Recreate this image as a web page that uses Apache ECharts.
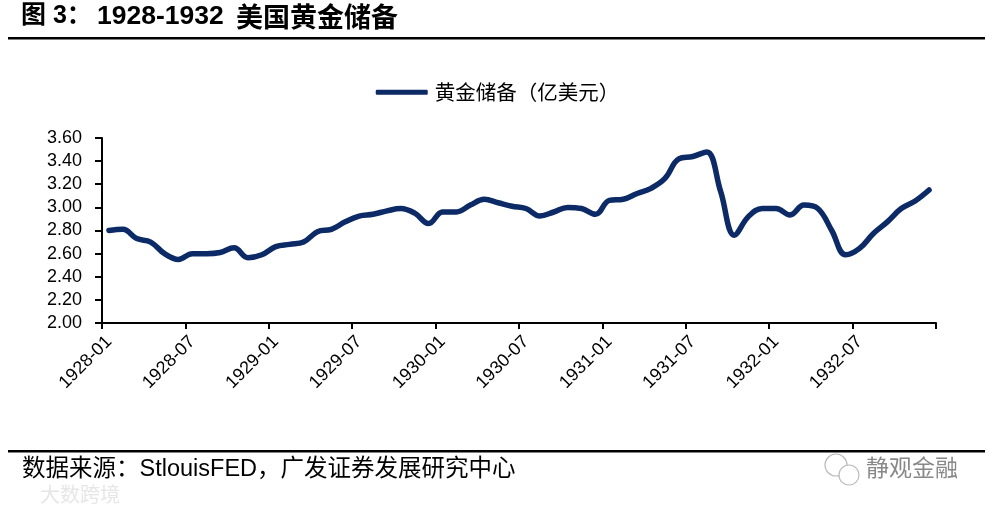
<!DOCTYPE html>
<html>
<head>
<meta charset="utf-8">
<script src="https://cdn.jsdelivr.net/npm/echarts@6/dist/echarts.min.js"></script>
<style>
html,body{margin:0;padding:0;background:#fff;}
#chart{width:995px;height:513px;}
</style>
</head>
<body>
<div id="chart"></div>
<script>
// Categories: monthly 1928-01 .. 1932-12
const years = [1928, 1929, 1930, 1931, 1932];
const months = ['01','02','03','04','05','06','07','08','09','10','11','12'];
const categories = [];
years.forEach(y => months.forEach(m => categories.push(y + '-' + m)));

// Gold reserves (亿美元)
const goldReserves = [
  2.80, 2.81, 2.73, 2.70, 2.60, 2.55, 2.60, 2.60, 2.61, 2.65, 2.565, 2.59,
  2.66, 2.68, 2.70, 2.79, 2.81, 2.875, 2.925, 2.94, 2.97, 2.99, 2.95, 2.86,
  2.96, 2.96, 3.02, 3.07, 3.04, 3.01, 2.99, 2.925, 2.96, 3.00, 2.99, 2.94,
  3.06, 3.07, 3.12, 3.165, 3.25, 3.42, 3.44, 3.48, 3.14, 2.76, 2.92, 2.99,
  2.99, 2.935, 3.02, 2.99, 2.80, 2.59, 2.645, 2.775, 2.875, 2.99, 3.055, 3.15
];

const seriesName = '黄金储备（亿美元）';
const titlePrefix = '图 3：';
const titleYears = '1928-1932';
const titleMain = '美国黄金储备';
const sourceText = '数据来源：StlouisFED，广发证券发展研究中心';

const chart = echarts.init(document.getElementById('chart'));
chart.setOption({
  backgroundColor: '#fff',
  animation: false,
  legend: {
    top: 77,
    left: 'center',
    itemWidth: 52,
    itemHeight: 5,
    icon: 'roundRect',
    textStyle: { fontSize: 20.5, color: '#000', fontFamily: 'Noto Sans CJK SC', padding: [0, 0, 0, 2] },
    data: [seriesName]
  },
  grid: { left: 102, right: 59, top: 138, bottom: 190, containLabel: false },
  xAxis: {
    type: 'category',
    data: categories,
    boundaryGap: true,
    axisLine: { lineStyle: { color: '#000', width: 2 } },
    axisTick: { show: true, interval: 5, length: 6, lineStyle: { color: '#000', width: 2 } },
    axisLabel: {
      interval: 5, rotate: 45, fontSize: 18, color: '#000',
      fontFamily: 'Liberation Sans, Arial', margin: 16
    }
  },
  yAxis: {
    type: 'value',
    min: 2.0, max: 3.6, interval: 0.2,
    axisLine: { show: true, lineStyle: { color: '#000', width: 2 } },
    axisTick: { show: true, length: 7, lineStyle: { color: '#000', width: 2 } },
    splitLine: { show: false },
    axisLabel: {
      fontSize: 18, color: '#000', fontFamily: 'Liberation Sans, Arial', margin: 20,
      formatter: v => v.toFixed(2)
    }
  },
  series: [{
    name: seriesName,
    type: 'line',
    data: goldReserves,
    smooth: 0.4,
    showSymbol: false,
    symbol: 'none',
    itemStyle: { color: '#0b2a66' },
    lineStyle: { color: '#0b2a66', width: 5.5, cap: 'round', join: 'round' }
  }],
  graphic: [
    { type: 'text', left: 21, top: 4,
      style: { text: titlePrefix, font: 'bold 25px "Liberation Sans", "Noto Sans CJK SC"', fill: '#000' } },
    { type: 'text', left: 97, top: 3,
      style: { text: titleYears, font: 'bold 26.5px "Liberation Sans"', fill: '#000' } },
    { type: 'text', left: 236, top: 3,
      style: { text: titleMain, font: 'bold 27px "Noto Sans CJK SC"', fill: '#000' } },
    { type: 'rect', shape: { x: 8, y: 37, width: 977, height: 2.5 }, style: { fill: '#000' } },
    { type: 'rect', shape: { x: 8, y: 450, width: 977, height: 2.5 }, style: { fill: '#000' } },
    { type: 'text', left: 22, top: 458,
      style: { text: sourceText, font: '23.5px "Liberation Sans", "Noto Sans CJK SC"', fill: '#000' } },
    { type: 'text', left: 866, top: 456,
      style: { text: '静观金融', font: '23px "Noto Sans CJK SC"', fill: '#888' } },
    { type: 'circle', shape: { cx: 836, cy: 465, r: 11 }, style: { fill: '#fff', stroke: '#bbb', lineWidth: 1.2 } },
    { type: 'circle', shape: { cx: 849, cy: 475, r: 10 }, style: { fill: '#fff', stroke: '#bbb', lineWidth: 1.2 } },
    { type: 'text', left: 40, top: 484,
      style: { text: '大数跨境', font: '20px "Noto Sans CJK SC"', fill: '#e6e6e6' } }
  ]
});
</script>
</body>
</html>
